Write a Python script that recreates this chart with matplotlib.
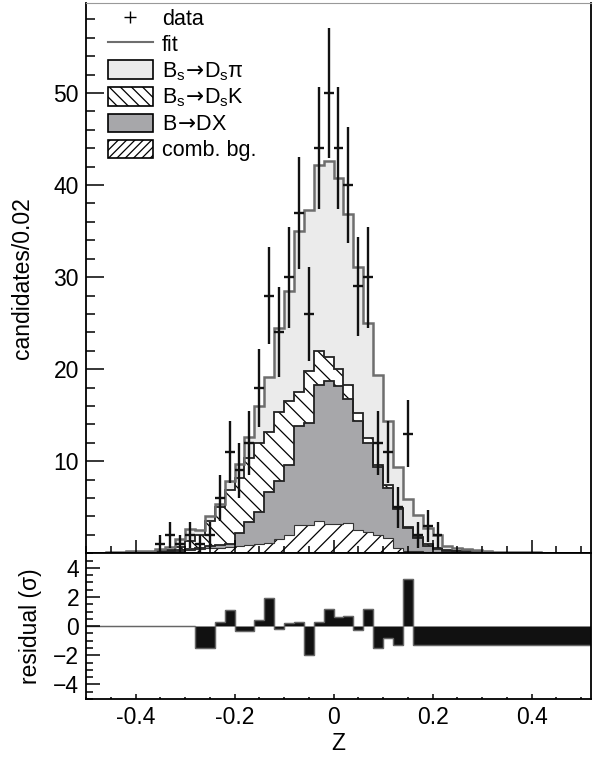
import numpy as np
import matplotlib.pyplot as plt
from matplotlib.ticker import MultipleLocator, FixedLocator, NullFormatter
from matplotlib.patches import Patch
from matplotlib.lines import Line2D

plt.rcParams['font.family'] = ['Liberation Sans', 'DejaVu Sans']
plt.rcParams['mathtext.fontset'] = 'dejavusans'
plt.rcParams['hatch.linewidth'] = 0.9

# 51 bins of width 0.02, -0.5 .. 0.52
edges = np.round(np.linspace(-0.5, 0.52, 52), 2)

comb = [0, 0, 0, 0, 0, 0.05, 0.1, 0.15, 0.2, 0.3,
        0.4, 0.5, 0.6, 0.6, 0.7, 0.8, 0.9, 1.0, 1.1, 1.5,
        2.0, 3.1, 3.1, 3.5, 3.2, 3.2, 3.3, 2.5, 2.3, 2.0,
        1.7, 0.6, 0.3, 0.2, 0.1, 0.1, 0.05, 0.05, 0, 0,
        0, 0, 0, 0, 0, 0, 0, 0, 0, 0, 0]
bdx = [0, 0, 0, 0, 0, 0, 0, 0, 0, 0.05,
       0.05, 0.1, 0.2, 0.3, 0.3, 1.4, 2.5, 3.5, 5.6, 6.3,
       7.6, 10.7, 11.1, 14.8, 15.5, 15.0, 13.5, 11.9, 9.7, 7.4,
       5.4, 4.2, 2.5, 1.5, 0.7, 0.4, 0.25, 0.15, 0.1, 0.05,
       0.05, 0, 0, 0, 0, 0, 0, 0, 0, 0, 0]
dsk = [0, 0, 0, 0.02, 0.05, 0.05, 0.05, 0.1, 0.15, 0.35,
       0.85, 1.4, 2.7, 4.1, 5.9, 6.0, 6.9, 7.5, 6.5, 7.6,
       6.9, 3.7, 5.6, 3.7, 2.6, 1.8, 1.5, 0.8, 0.5, 0.2,
       0.3, 0.1, 0.1, 0.1, 0.2, 0.1, 0.1, 0.1, 0.1, 0.1,
       0.05, 0.05, 0.05, 0, 0, 0, 0, 0, 0, 0, 0]
dspi = [0, 0.05, 0.1, 0.13, 0.15, 0.1, 0.15, 0.25, 0.35, 0.8,
        1.3, 0.5, 0.6, 0.4, 0.9, 1.5, 2.3, 4.0, 6.0, 9.1,
        12.0, 17.5, 17.5, 20.2, 21.3, 20.8, 18.5, 15.9, 12.5, 9.8,
        7.0, 4.5, 3.0, 2.4, 1.8, 1.4, 0.4, 0.3, 0.3, 0.25,
        0.1, 0.1, 0.1, 0.1, 0.1, 0.1, 0.05, 0, 0, 0, 0]
data = [0, 0, 0, 0, 0, 0, 0, 1, 2, 1,
        2, 1, 2, 6, 11, 9, 12, 18, 28, 24,
        30, 37, 26, 44, 50, 44, 40, 29, 30, 12,
        11, 5, 13, 2, 3, 2, 0, 0, 0, 0,
        0, 0, 0, 0, 0, 0, 0, 0, 0, 0, 0]

resid_edges = [-0.5, -0.28, -0.24, -0.22, -0.20, -0.16, -0.14, -0.12, -0.10, -0.08,
               -0.06, -0.04, -0.02, 0.0, 0.02, 0.04, 0.06, 0.08, 0.10, 0.12,
               0.14, 0.16, 0.52]
resid = [0, -1.5, 0.27, 1.1, -0.35, 0.4, 1.9, -0.2, 0.2, 0.27,
         -2.0, 0.27, 1.2, 0.62, 0.68, -0.28, 1.2, -1.5, -0.82, -1.3,
         3.25, -1.27]

c_top = np.array(comb)
b_top = c_top + np.array(bdx)
k_top = b_top + np.array(dsk)
t_top = k_top + np.array(dspi)

fig = plt.figure(figsize=(5.96, 7.57), dpi=100)
ax = fig.add_axes([0.1443, 0.2691, 0.8473, 0.7273])
axr = fig.add_axes([0.1443, 0.0766, 0.8473, 0.1925])

light = '#ebebeb'
dark = '#a7a7aa'
fitcol = '#6e6e6e'
fs = 16.5

# stacked components
ax.stairs(t_top, edges, fill=True, facecolor=light, lw=0)
ax.stairs(k_top, edges, fill=True, facecolor='white', edgecolor='k', hatch='\\\\', lw=0)
ax.stairs(b_top, edges, fill=True, facecolor=dark, lw=0)
ax.stairs(c_top, edges, fill=True, facecolor='white', edgecolor='k', hatch='//', lw=0)
ax.stairs(c_top, edges, color='#333333', lw=0.8)
ax.stairs(b_top, edges, color='#222222', lw=1.3)
ax.stairs(k_top, edges, color='#222222', lw=1.3)
ax.stairs(t_top, edges, color=fitcol, lw=1.8)

# data
centers = (edges[:-1] + edges[1:]) / 2
d = np.array(data, dtype=float)
m = d > 0
ax.errorbar(centers[m], d[m], xerr=0.01, yerr=np.sqrt(d[m]), fmt='none',
            ecolor='#111111', elinewidth=1.7, capsize=0)

ax.set_xlim(-0.5, 0.52)
ax.set_ylim(0, 59.8)
ax.yaxis.set_major_locator(FixedLocator([10, 20, 30, 40, 50]))
ax.yaxis.set_minor_locator(MultipleLocator(2))
ax.xaxis.set_major_locator(MultipleLocator(0.2))
ax.xaxis.set_minor_locator(MultipleLocator(0.05))
ax.xaxis.set_major_formatter(NullFormatter())
ax.tick_params(axis='y', which='major', direction='in', length=13, width=1.1, labelsize=fs, pad=5)
ax.tick_params(axis='y', which='minor', direction='in', length=6.5, width=1.1)
ax.tick_params(axis='x', which='major', direction='in', length=9.5, width=1.1)
ax.tick_params(axis='x', which='minor', direction='in', length=5, width=1.1)
ax.set_ylabel('candidates/0.02', fontsize=fs, labelpad=14)
for s in ['left', 'right', 'bottom']:
    ax.spines[s].set_linewidth(1.3)
ax.spines['top'].set_color('#999999')

handles = [Line2D([], [], marker='+', ls='none', color='k', markersize=8, mew=1.0),
           Line2D([], [], color=fitcol, lw=1.5),
           Patch(facecolor=light, edgecolor='k', lw=1.2),
           Patch(facecolor='white', edgecolor='k', hatch='\\\\\\', lw=1.2),
           Patch(facecolor=dark, edgecolor='k', lw=1.2),
           Patch(facecolor='white', edgecolor='k', hatch='////', lw=1.2)]
labels = ['data', 'fit',
          r'B$_\mathregular{s}\!\rightarrow\!$D$_\mathregular{s}$π',
          r'B$_\mathregular{s}\!\rightarrow\!$D$_\mathregular{s}$K',
          r'B$\!\rightarrow\!$DX', 'comb. bg.']
ax.legend(handles, labels, loc='upper left', bbox_to_anchor=(0.043, 0.99),
          frameon=False, fontsize=15.5, handlelength=2.1, handleheight=0.93,
          labelspacing=0.2, handletextpad=0.42, borderpad=0, borderaxespad=0)

# residuals
axr.stairs(resid, resid_edges, fill=True, facecolor='#111111', edgecolor='#666666', lw=0.9)
axr.stairs(resid, resid_edges, color='#666666', lw=0.9)
axr.set_xlim(-0.5, 0.52)
axr.set_ylim(-5, 5)
axr.yaxis.set_major_locator(MultipleLocator(2))
axr.yaxis.set_minor_locator(MultipleLocator(0.5))
axr.xaxis.set_major_locator(MultipleLocator(0.2))
axr.xaxis.set_minor_locator(MultipleLocator(0.05))
axr.xaxis.set_major_formatter(lambda v, p: '0' if abs(v) < 1e-9 else f'{v:g}')
axr.tick_params(axis='y', which='major', direction='in', length=10, width=1.1, labelsize=fs, pad=5)
axr.tick_params(axis='y', which='minor', direction='in', length=5, width=1.1)
axr.tick_params(axis='x', which='major', direction='in', length=3.5, width=1.1, labelsize=fs, pad=5)
axr.tick_params(axis='x', which='minor', direction='in', length=1.8, width=1.1)
axr.set_ylabel('residual (σ)', fontsize=fs, labelpad=8)
axr.set_xlabel('Z', fontsize=fs, labelpad=2)
for s in axr.spines.values():
    s.set_linewidth(1.3)

fig.savefig('out.png', dpi=100)
